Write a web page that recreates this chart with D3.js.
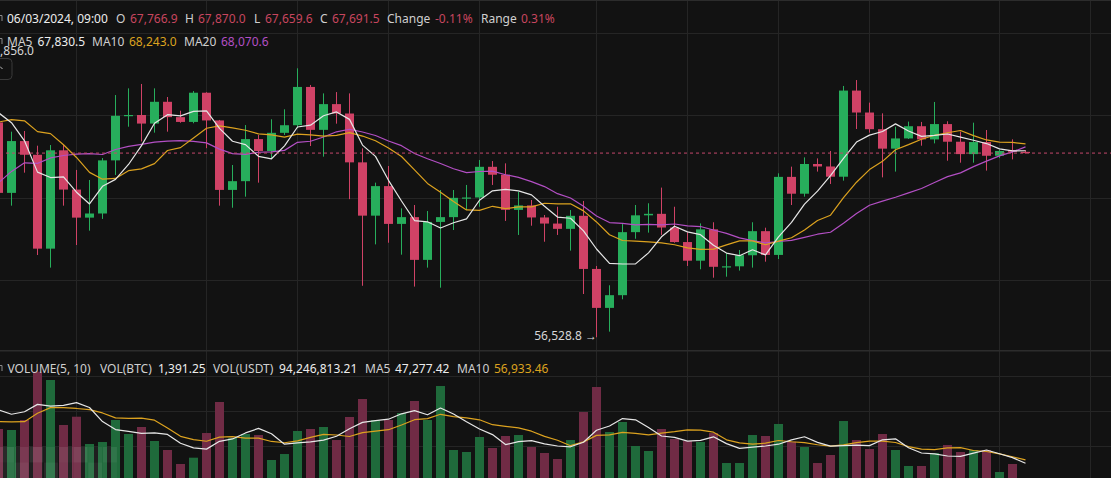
<!DOCTYPE html>
<html>
<head>
<meta charset="utf-8">
<title>BTC/USDT daily</title>
<script src="https://d3js.org/d3.v7.min.js"></script>
<style>
  html, body { margin: 0; background: #121212; overflow: hidden; }
  svg { display: block; font-family: "Noto Sans", sans-serif; }
</style>
</head>
<body>
<svg id="chart" width="1111" height="478"></svg>
<script>
// one candle per day, starting here
const firstDay = "2024-03-16";

const opens = [
  69550, 65280, 68420, 67590, 61900, 67860, 65480, 63780, 64030, 67250,
  69950, 70000, 69480, 70800, 69870, 69580, 71350, 69670, 65460, 65990,
  68540, 67820, 68920, 69380, 71700, 69100, 70660, 70090, 67130, 63900,
  65690, 63400, 63810, 61220, 63520, 63810, 64960, 65000, 66860, 66380,
  64250, 64520, 63790, 63420, 63100, 63890, 60670, 58310, 59080, 62900,
  63920, 64010, 63180, 62300, 61170, 63070, 60800, 60830, 61500, 62960,
  61520, 66250, 65230, 67030, 66880, 66260, 71480, 70150, 69140, 67960,
  68580, 69320, 68520, 69450, 68380, 67630, 68360, 67530, 67880, 67766.9
];
const highs = [
  70040, 68990, 69030, 68140, 68180, 68180, 66670, 66060, 67390, 71210,
  71615, 71880, 71615, 71090, 70260, 71450, 71380, 69700, 66970, 69390,
  68790, 69740, 70345, 72830, 71820, 71310, 71390, 71310, 67980, 65900,
  66910, 64340, 64545, 64180, 65455, 65455, 65760, 67270, 67210, 67070,
  65350, 64850, 63940, 64440, 64240, 64790, 60850, 59680, 63390, 64545,
  64650, 65600, 64440, 62890, 63430, 63500, 61620, 61820, 63500, 63170,
  66465, 66870, 67430, 67370, 67820, 71760, 72120, 70750, 70100, 69290,
  69600, 69580, 70790, 69620, 68990, 69535, 69090, 67900, 68525, 67870
];
const lows = [
  64780, 64505, 66505, 61515, 60750, 64505, 62120, 62990, 63700, 66365,
  69290, 68400, 68930, 68990, 69530, 69500, 67990, 64505, 64380, 65050,
  65900, 67330, 68790, 69200, 68120, 67475, 69475, 64900, 59650, 62160,
  62260, 61535, 59600, 60750, 59535, 63030, 64240, 64440, 65760, 63580,
  62730, 63290, 62320, 62730, 61780, 59150, 56528.8, 56870, 58830, 62500,
  62870, 62730, 62260, 60850, 60650, 60140, 60200, 60570, 60750, 61110,
  61270, 64545, 65050, 66570, 65820, 66020, 69150, 68930, 66220, 66570,
  68545, 68140, 68280, 67230, 67110, 67110, 66630, 67390, 67310, 67659.6
];
const closes = [
  65280, 68420, 67590, 61900, 67860, 65480, 63780, 64030, 67250, 69950,
  70000, 69480, 70800, 69870, 69580, 71350, 69670, 65460, 65990, 68540,
  67820, 68920, 69380, 71700, 69100, 70660, 70090, 67130, 63900, 65690,
  63400, 63810, 61220, 63520, 63810, 64980, 65000, 66860, 66380, 64250,
  64520, 63790, 63420, 63100, 63890, 60670, 58310, 59080, 62900, 63920,
  64010, 63180, 62300, 61170, 63070, 60800, 60830, 61500, 62960, 61520,
  66250, 65230, 67030, 66880, 66260, 71480, 70150, 69140, 67960, 68580,
  69320, 68520, 69450, 68380, 67630, 68360, 67530, 67820, 67767, 67691.5
];
// traded volume (BTC)
const volumes = [
  148600, 145700, 174300, 312300, 288600, 160000, 183700, 105700, 111400, 174300,
  134300, 154300, 114300, 88600, 48600, 66600, 137100, 225700, 122900, 134300,
  131400, 60000, 77100, 142900, 148600, 154300, 117100, 182900, 234300, 174300,
  174300, 194300, 228600, 174300, 271400, 88600, 82900, 125700, 94300, 128600,
  131400, 97100, 80000, 62900, 117100, 197100, 268600, 140000, 168600, 100000,
  85700, 148600, 120000, 114300, 111400, 137100, 51400, 51400, 131400, 128600,
  162900, 112300, 97100, 51400, 74300, 171400, 117100, 91400, 134300, 88600,
  42900, 42900, 80000, 102900, 82900, 88600, 88600, 25700, 48600, 1391.25
];
// days before the first visible candle, only used to start the moving averages
const earlierCloses = [
  54626, 57187, 62582, 61280, 62537, 62137, 63263, 68395, 63874, 66224,
  66973, 68274, 68463, 69105, 72228, 71452, 73072, 71388, 69499
];
const earlierVolumes = [150000, 170000, 70000, 130000, 160000, 207000, 138000, 207000, 314000];

const gridDates = ["2024-03-22", "2024-04-01", "2024-04-08", "2024-04-15", "2024-04-22",
  "2024-05-01", "2024-05-08", "2024-05-15", "2024-05-22", "2024-06-01", "2024-06-08"];
const priceGrid = [60000, 65000, 70000, 75000];
const volumeGrid = [100000, 200000, 300000];

const priceHeader = [
  ["06/03/2024, 09:00", "date"], ["O", "lab"], ["67,766.9", "red"], ["H", "lab"], ["67,870.0", "red"],
  ["L", "lab"], ["67,659.6", "red"], ["C", "lab"], ["67,691.5", "red"],
  ["Change", "lab"], ["-0.11%", "red"], ["Range", "lab"], ["0.31%", "red"]
];
const maHeader = [["MA5", "lab"], ["67,830.5", "val"], ["MA10", "lab"], ["68,243.0", "ma10"],
  ["MA20", "lab"], ["68,070.6", "ma20"]];
const volHeader = [["VOLUME(5, 10)", "lab"], ["VOL(BTC)", "lab"], ["1,391.25", "val"],
  ["VOL(USDT)", "lab"], ["94,246,813.21", "val"], ["MA5", "lab"], ["47,277.42", "val"],
  ["MA10", "lab"], ["56,933.46", "ma10"]];
const highLabel = "\u2190 73,856.0";
const lowLabel = "56,528.8 \u2192";

const colors = {
  date: "#ededed", lab: "#cfcfcf", val: "#ededed", red: "#c8465f",
  ma5: "#e6e6e6", ma10: "#dca21f", ma20: "#b34fc4",
  up: "#27ae5c", down: "#d04266", volUp: "#1f6a3b", volDown: "#702b45",
  grid: "#252525"
};

const W = 1111, H = 478;
const svg = d3.select("#chart");
svg.append("rect").attr("width", W).attr("height", H).attr("fill", "#121212");

const day0 = new Date(firstDay + "T00:00:00Z");
const candles = closes.map((c, i) => ({
  date: d3.utcDay.offset(day0, i),
  open: opens[i], high: highs[i], low: lows[i], close: c, volume: volumes[i]
}));

function movingAvg(values, history, n) {
  const all = history.concat(values);
  return values.map((v, i) => d3.mean(all.slice(history.length + i - n + 1, history.length + i + 1)));
}
const ma5 = movingAvg(closes, earlierCloses, 5);
const ma10 = movingAvg(closes, earlierCloses, 10);
const ma20 = movingAvg(closes, earlierCloses, 20);
const vma5 = movingAvg(volumes, earlierVolumes, 5);
const vma10 = movingAvg(volumes, earlierVolumes, 10);

const x = d3.scaleUtc()
  .domain([candles[0].date, candles[candles.length - 1].date])
  .range([-1.5, -1.5 + 13 * (candles.length - 1)]);
const y = d3.scaleLinear().domain([60000, 75000]).range([280, 32.5]);
const vy = d3.scaleLinear().domain([0, 300000]).range([481, 376]);
const bodyW = 9;

const defs = svg.append("defs");
defs.append("clipPath").attr("id", "clipPrice").append("rect").attr("width", W).attr("height", 350);
defs.append("clipPath").attr("id", "clipVol").append("rect").attr("y", 351).attr("width", W).attr("height", H - 351);

// grid
const grid = svg.append("g").attr("stroke", colors.grid).attr("shape-rendering", "crispEdges");
grid.selectAll("line.v")
  .data(gridDates.map(s => new Date(s + "T00:00:00Z")))
  .join("line")
  .attr("x1", d => x(d)).attr("x2", d => x(d))
  .attr("y1", 0).attr("y2", H);
grid.selectAll("line.p")
  .data(priceGrid).join("line")
  .attr("x1", 0).attr("x2", W)
  .attr("y1", d => Math.round(y(d)) + 0.5).attr("y2", d => Math.round(y(d)) + 0.5);
grid.selectAll("line.vol")
  .data(volumeGrid).join("line")
  .attr("x1", 0).attr("x2", W)
  .attr("y1", d => Math.round(vy(d)) + 0.5).attr("y2", d => Math.round(vy(d)) + 0.5);
svg.append("line").attr("x1", 0).attr("x2", W).attr("y1", 0.5).attr("y2", 0.5).attr("stroke", "#2c2c2c");
svg.append("rect").attr("x", 0).attr("y", 350).attr("width", W).attr("height", 1.5).attr("fill", "#2c2c2c");

// price panel
const pg = svg.append("g").attr("clip-path", "url(#clipPrice)");
const up = d => d.close >= d.open;

pg.selectAll("line.wick")
  .data(candles).join("line")
  .attr("x1", d => x(d.date)).attr("x2", d => x(d.date))
  .attr("y1", d => y(d.high)).attr("y2", d => y(d.low))
  .attr("stroke", d => up(d) ? colors.up : colors.down)
  .attr("stroke-width", 1);

pg.selectAll("rect.body")
  .data(candles).join("rect")
  .attr("x", d => x(d.date) - bodyW / 2)
  .attr("y", d => y(Math.max(d.open, d.close)))
  .attr("width", bodyW)
  .attr("height", d => Math.max(1.2, Math.abs(y(d.open) - y(d.close))))
  .attr("fill", d => up(d) ? colors.up : colors.down);

const line = d3.line().x((d, i) => x(candles[i].date)).y(d => y(d));
[[ma20, colors.ma20], [ma10, colors.ma10], [ma5, colors.ma5]].forEach(([s, c]) => {
  pg.append("path").datum(s).attr("d", line)
    .attr("fill", "none").attr("stroke", c).attr("stroke-width", 1.2)
    .attr("stroke-linejoin", "round");
});

// last price line
const last = candles[candles.length - 1];
pg.append("line")
  .attr("x1", 0).attr("x2", W)
  .attr("y1", y(last.close)).attr("y2", y(last.close))
  .attr("stroke", "#c4486c").attr("stroke-dasharray", "3,3").attr("stroke-width", 1);

// extreme labels
const lowIdx = d3.minIndex(candles, d => d.low);
pg.append("text")
  .attr("x", x(candles[lowIdx].date) + 0.5).attr("y", y(candles[lowIdx].low) + 3)
  .attr("text-anchor", "end").attr("font-size", 12).attr("fill", "#d6d6d6")
  .text(lowLabel);
pg.append("text")
  .attr("x", 34).attr("y", 54.5)
  .attr("text-anchor", "end").attr("font-size", 12).attr("fill", "#d6d6d6")
  .text(highLabel);

// little collapse button at the top-left corner
pg.append("rect").attr("x", -10).attr("y", 58.5).attr("width", 22).attr("height", 21).attr("rx", 4)
  .attr("fill", "#121212").attr("stroke", "#3a3a3a");
pg.append("path").attr("d", "M0,66.5L2.5,69").attr("stroke", "#bdbdbd").attr("fill", "none");

// volume panel
const vg = svg.append("g").attr("clip-path", "url(#clipVol)");
vg.selectAll("rect.vol")
  .data(candles).join("rect")
  .attr("x", d => x(d.date) - bodyW / 2)
  .attr("y", d => vy(d.volume))
  .attr("width", bodyW)
  .attr("height", d => vy(0) - vy(d.volume))
  .attr("fill", d => up(d) ? colors.volUp : colors.volDown);

const vline = d3.line().x((d, i) => x(candles[i].date)).y(d => vy(d));
[[vma10, colors.ma10], [vma5, colors.ma5]].forEach(([s, c]) => {
  vg.append("path").datum(s).attr("d", vline)
    .attr("fill", "none").attr("stroke", c).attr("stroke-width", 1.2)
    .attr("stroke-linejoin", "round");
});

// blurred watermark in the bottom-left corner
const wmOpacity = [0.10, 0.07, 0.12, 0.06, 0.09, 0.11, 0.05, 0.08,
                   0.08, 0.11, 0.06, 0.10, 0.07, 0.05, 0.09, 0.04];
vg.selectAll("rect.wm")
  .data(wmOpacity).join("rect")
  .attr("x", (d, i) => (i % 8) * 14.7)
  .attr("y", (d, i) => 447 + Math.floor(i / 8) * 15.5)
  .attr("width", 14).attr("height", 15.5)
  .attr("fill", "#ffffff").attr("opacity", d => d);

// legends
function legendRow(items, xs, baseline) {
  const t = svg.append("text").attr("font-size", 12).attr("y", baseline);
  items.forEach(([txt, role], i) => {
    t.append("tspan").attr("x", xs[i]).attr("fill", colors[role]).text(txt);
  });
  svg.append("path").attr("d", `M0,${baseline - 7.5}H2V${baseline - 2}`)
    .attr("stroke", "#8a8a8a").attr("fill", "none");
}
legendRow(priceHeader, [7, 116, 130, 185, 198, 254, 265, 320, 332, 387, 435, 481, 521], 23);
legendRow(maHeader, [7, 37.5, 92, 129, 184, 221], 46);
legendRow(volHeader, [7.5, 100, 158, 213, 279, 365, 395, 457, 494], 373);
</script>
</body>
</html>
